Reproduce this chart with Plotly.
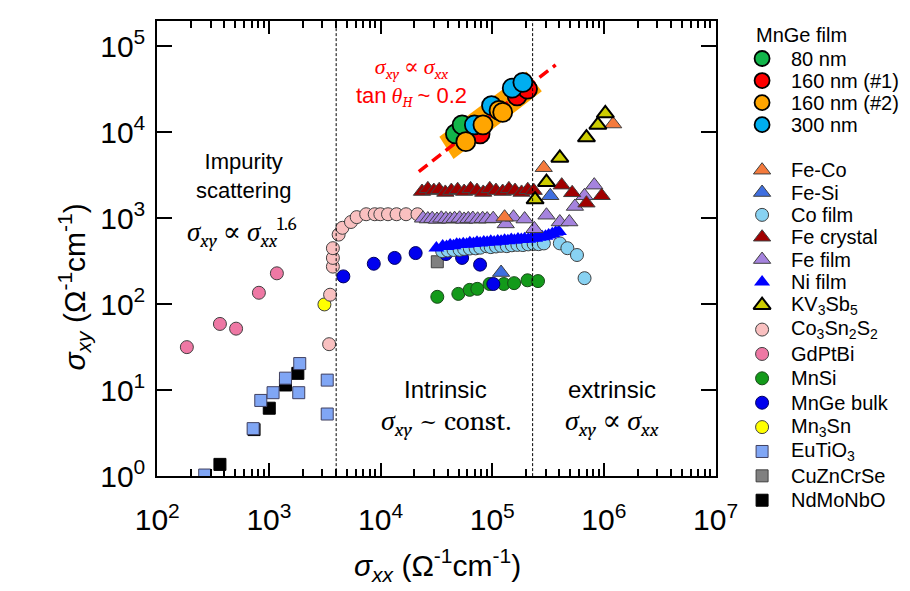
import plotly.graph_objects as go

# ---------------- data ----------------
film80_x = [4.68e4, 5.37e4]
film80_y = [9.6e3, 1.22e4]
film160a_x = [7.78e4, 1.67e5, 2.07e5]
film160a_y = [9.6e3, 2.66e4, 3.19e4]
film160b_x = [5.8e4, 8.26e4, 1.15e5, 1.24e5]
film160b_y = [7.8e3, 1.22e4, 1.8e4, 1.71e4]
film300_x = [6.92e4, 9.85e4, 1.51e5, 1.88e5]
film300_y = [1.22e4, 2.05e4, 3.27e4, 3.82e4]

band_x = [3.36e4, 4.5e4, 2.78e5, 2.03e5]
band_y = [8.9e3, 4.9e3, 3.0e4, 5.1e4]
fit_x = [2.2e4, 3.7e5]
fit_y = [3.5e3, 6.1e4]
divider_x = [4.0e3, 2.3e5]

feco_x = [1.29e5, 2.89e5, 1.21e6]
feco_y = [1.03e3, 3.88e3, 1.25e4]
fesi_x = [1.2e5, 3.31e5]
fesi_y = [234, 1.83e3]
cofilm_x = [3.56e4, 4.0e4, 4.5e4, 5.1e4, 5.6e4, 6.3e4, 7.1e4, 7.8e4, 8.9e4, 9.7e4, 1.08e5,
            1.2e5, 1.35e5, 1.5e5, 1.68e5, 1.88e5, 2.1e5, 2.35e5, 2.6e5, 2.9e5, 4.03e5, 4.71e5,
            5.74e5, 6.71e5]
cofilm_y = [415, 422, 428, 430, 440, 445, 447, 455, 473, 462, 470, 478, 474, 485, 490, 488, 497,
            503, 500, 510, 511, 449, 374, 201]
fecrys_x = [2.35e4, 2.65e4, 3.0e4, 3.35e4, 3.8e4, 4.3e4, 4.9e4, 5.6e4, 6.4e4, 7.3e4, 8.3e4,
            9.5e4, 1.08e5, 1.24e5, 1.41e5, 1.6e5, 1.83e5, 2.08e5, 2.35e5, 4.19e5, 5.2e5,
            6.98e5, 9.55e5]
fecrys_y = [2.05e3, 2.2e3, 2.1e3, 2.15e3, 2.0e3, 2.1e3, 2.15e3, 2.05e3, 2.2e3, 2.1e3, 2.0e3,
            2.2e3, 2.1e3, 2.05e3, 2.2e3, 2.1e3, 2.0e3, 2.15e3, 2.1e3, 2.43e3, 1.98e3, 1.5e3,
            1.83e3]
fefilm_x = [2.4e4, 2.65e4, 2.9e4, 3.2e4, 3.5e4, 3.85e4, 4.2e4, 4.6e4, 5.1e4, 5.6e4, 6.1e4,
            6.7e4, 7.4e4, 8.2e4, 9.0e4, 1.02e5, 1.32e5, 1.55e5, 1.95e5, 2.38e5, 3.06e5,
            4.03e5, 4.9e5, 5.5e5, 6.7e5, 8.2e5]
fefilm_y = [1.0e3, 980, 990, 970, 1.0e3, 985, 975, 990, 1.0e3, 970, 985, 995, 975, 990, 980,
            990, 860, 1030, 980, 755, 1086, 906, 906, 1373, 1827, 2430]
nifilm_x = [3.16e4, 3.6e4, 3.9e4, 4.2e4, 4.5e4, 4.8e4, 5.1e4, 5.5e4, 5.9e4, 6.3e4, 6.8e4,
            7.3e4, 7.8e4, 8.4e4, 9.0e4, 9.7e4, 1.04e5, 1.12e5, 1.2e5, 1.29e5, 1.38e5, 1.48e5,
            1.58e5, 1.7e5, 1.82e5, 1.95e5, 2.1e5, 2.25e5, 2.42e5, 2.6e5, 2.8e5, 3.0e5, 3.2e5,
            3.45e5, 3.7e5, 3.95e5]
nifilm_y = [450, 475, 470, 490, 480, 500, 495, 505, 500, 520, 510, 525, 515, 530, 525, 540,
            530, 545, 540, 555, 548, 565, 555, 575, 565, 580, 572, 590, 585, 600, 610, 620,
            640, 660, 690, 700]
kv_x = [2.42e5, 3.06e5, 4.03e5, 6.98e5, 8.83e5, 1.03e6]
kv_y = [1.65e3, 2.63e3, 5.04e3, 8.7e3, 1.22e4, 1.66e4]
cosns_x = [3.46e3, 3.53e3, 3.74e3, 3.74e3, 3.74e3, 4.21e3, 4.55e3, 5.43e3, 6.11e3, 7.43e3,
           8.86e3, 9.95e3, 1.165e4, 1.39e4, 1.69e4, 2.14e4]
cosns_y = [34.3, 129, 274, 346, 449, 646, 775, 906, 1032, 1115, 1115, 1115, 1115, 1115, 1115,
           1115]
gdptbi_x = [184, 364, 508, 813, 1178]
gdptbi_y = [31.7, 59, 52, 136, 229]
mnsi_x = [3.22e4, 4.97e4, 6.28e4, 7.35e4, 9.46e4, 1.27e5, 1.57e5, 2.07e5, 2.57e5]
mnsi_y = [122, 132, 147, 151, 172, 172, 176, 190, 186]
mngebulk_x = [4.64e3, 8.69e3, 1.336e4, 2.06e4, 3.85e4, 5.37e4, 7.78e4, 1.023e5]
mngebulk_y = [211, 296, 346, 394, 384, 346, 289, 172]
mn3sn_x = [3.14e3]
mn3sn_y = [99.5]
eutio_x = [266, 722, 845, 1089, 1406, 1888, 1849, 3327, 3327]
eutio_y = [1.03, 3.57, 7.6, 9.35, 13.8, 20.4, 9.35, 13.1, 5.28]
cuzn_x = [3.22e4]
cuzn_y = [312]
ndmo_x = [364, 736, 1007, 1406, 1815]
ndmo_y = [1.37, 3.48, 6.17, 11.5, 15.7]

x_tickvals = [1e2, 1e3, 1e4, 1e5, 1e6, 1e7]
x_ticktext = ["10<sup>2</sup>", "10<sup>3</sup>", "10<sup>4</sup>", "10<sup>5</sup>",
              "10<sup>6</sup>", "10<sup>7</sup>"]
y_tickvals = [1e0, 1e1, 1e2, 1e3, 1e4, 1e5]
y_ticktext = ["10<sup>0</sup>", "10<sup>1</sup>", "10<sup>2</sup>", "10<sup>3</sup>",
              "10<sup>4</sup>", "10<sup>5</sup>"]

# ---------------- layout constants ----------------
W, H = 910, 591
PL, PR, PT, PB = 133, 721, 13, 482      # plot frame in pixels
SANS = "Arial, Liberation Sans, sans-serif"
SERIF = "Cambria, Liberation Serif, DejaVu Serif, serif"

film_series = [
    ("80 nm", film80_x, film80_y, "#12B54A"),
    ("160 nm (#1)", film160a_x, film160a_y, "#FF0000"),
    ("160 nm (#2)", film160b_x, film160b_y, "#FFA500"),
    ("300 nm", film300_x, film300_y, "#00AEEF"),
]
film_draw_order = [0, 1, 3, 2]

# name, x, y, symbol, fill, size, edge, edge width
other_series = [
    ("Fe-Co", feco_x, feco_y, "triangle-up", "#F47A3C", 15, "#404040", 1),
    ("Fe-Si", fesi_x, fesi_y, "triangle-up", "#3F6FE0", 15, "#404040", 1),
    ("Co film", cofilm_x, cofilm_y, "circle", "#88D2F2", 13, "#404040", 1),
    ("Fe crystal", fecrys_x, fecrys_y, "triangle-up", "#A00000", 15, "#404040", 1),
    ("Fe film", fefilm_x, fefilm_y, "triangle-up", "#A583DE", 15, "#404040", 1),
    ("Ni film", nifilm_x, nifilm_y, "triangle-up", "#0000FF", 14, "#0000FF", 0),
    ("KV<sub>3</sub>Sb<sub>5</sub>", kv_x, kv_y, "triangle-up", "#CDCD00", 15, "#000000", 2),
    ("Co<sub>3</sub>Sn<sub>2</sub>S<sub>2</sub>", cosns_x, cosns_y, "circle", "#F9C0C0", 13, "#404040", 1),
    ("GdPtBi", gdptbi_x, gdptbi_y, "circle", "#EE78A4", 13, "#404040", 1),
    ("MnSi", mnsi_x, mnsi_y, "circle", "#139A1A", 13, "#1a4a1a", 1),
    ("MnGe bulk", mngebulk_x, mngebulk_y, "circle", "#0000EE", 13, "#000060", 1),
    ("Mn<sub>3</sub>Sn", mn3sn_x, mn3sn_y, "circle", "#FFFF00", 13, "#404040", 1),
    ("EuTiO<sub>3</sub>", eutio_x, eutio_y, "square", "#80A6F5", 12, "#404060", 1),
    ("CuZnCrSe", cuzn_x, cuzn_y, "square", "#808080", 12, "#404040", 1),
    ("NdMoNbO", ndmo_x, ndmo_y, "square", "#000000", 12, "#000000", 1),
]
other_draw_order = [14, 12, 13, 11, 8, 7, 9, 10, 2, 5, 4, 3, 1, 0, 6]

fig = go.Figure()

# other materials
for i in other_draw_order:
    name, xs, ys, sym, col, sz, ec, ew = other_series[i]
    fig.add_trace(go.Scatter(
        x=xs, y=ys, mode="markers", name=name, showlegend=False,
        marker=dict(symbol=sym, color=col, size=sz, line=dict(color=ec, width=ew)),
        xaxis="x", yaxis="y", cliponaxis=True))

# orange band and fit line
fig.add_trace(go.Scatter(x=band_x + band_x[:1], y=band_y + band_y[:1], mode="lines",
                         fill="toself", fillcolor="#FFA500", line=dict(width=0, color="#FFA500"),
                         showlegend=False, hoverinfo="skip"))
fig.add_trace(go.Scatter(x=fit_x, y=fit_y, mode="lines", showlegend=False,
                         line=dict(color="#FF0000", width=3.5, dash="11px,6px")))

# MnGe film
for i in film_draw_order:
    name, xs, ys, col = film_series[i]
    fig.add_trace(go.Scatter(
        x=xs, y=ys, mode="markers", name=name, showlegend=False,
        marker=dict(symbol="circle", color=col, size=19, line=dict(color="#000000", width=1.8))))

# ---------------- custom legend (axis x2/y2 = figure pixels) ----------------
LEG_MX, LEG_TX = 770, 798
film_rows = [52 + 22.7 * i for i in range(len(film_series))]
other_rows = [167 + 23.0 * i for i in range(6)] + [306 + 25.1 * i for i in range(len(other_series) - 6)]

fig.add_trace(go.Scatter(
    x=[LEG_MX] * len(film_series), y=film_rows, mode="markers", showlegend=False,
    xaxis="x2", yaxis="y2", hoverinfo="skip",
    marker=dict(symbol="circle", size=15, color=[s[3] for s in film_series],
                line=dict(color="#000000", width=1.8))))
for r, s in zip(other_rows, other_series):
    name, xs, ys, sym, col, sz, ec, ew = s
    fig.add_trace(go.Scatter(
        x=[LEG_MX], y=[r], mode="markers", showlegend=False, xaxis="x2", yaxis="y2",
        hoverinfo="skip",
        marker=dict(symbol=sym, color=col, size=sz, line=dict(color=ec, width=ew))))

annotations = []
annotations.append(dict(x=762, y=28, xref="x2", yref="y2", text="MnGe film", showarrow=False,
                        xanchor="left", yanchor="middle", font=dict(family=SANS, size=20, color="black")))
for r, s in zip(film_rows, film_series):
    annotations.append(dict(x=LEG_TX, y=r, xref="x2", yref="y2", text=s[0], showarrow=False,
                            xanchor="left", yanchor="middle",
                            font=dict(family=SANS, size=20, color="black")))
for r, s in zip(other_rows, other_series):
    annotations.append(dict(x=LEG_TX, y=r, xref="x2", yref="y2", text=s[0], showarrow=False,
                            xanchor="left", yanchor="middle",
                            font=dict(family=SANS, size=20, color="black")))

# text inside the plot (pixel positions)
def txt(x, y, t, size=21, fam=SANS, color="black", angle=0):
    annotations.append(dict(x=x, y=y, xref="x2", yref="y2", text=t, showarrow=False,
                            xanchor="center", yanchor="middle", textangle=angle,
                            font=dict(family=fam, size=size, color=color)))

sxy = "<i>σ</i><sub><i>xy</i></sub>"
sxx = "<i>σ</i><sub><i>xx</i></sub>"
sans_span = '<span style="font-family:Arial, Liberation Sans, sans-serif">%s</span>'
txt(224, 173, "Impurity<br>scattering", size=22)
txt(222, 231, sxy + " ∝ " + sxx + "<sup>1.6</sup>", size=27, fam=SERIF)
txt(437, 393, "Intrinsic", size=24)
txt(437, 427, sxy + " ~ const.", size=28, fam=SERIF)
txt(612, 393, "extrinsic", size=24)
txt(612, 427, sxy + " ∝ " + sxx, size=28, fam=SERIF)
txt(401, 77, sxy + " ∝ " + sxx + "<br>" + sans_span % "tan" + " "
    + "<i>θ</i><sub><i>H</i></sub> " + sans_span % "~ 0.2",
    size=22, fam=SERIF, color="#FF0000")
# axis titles
txt(428, 574, "<i>σ</i><sub><i>xx</i></sub> (Ω<sup>-1</sup>cm<sup>-1</sup>)", size=30, fam=SANS)
txt(45, 287, "<i>σ</i><sub><i>xy</i></sub> (Ω<sup>-1</sup>cm<sup>-1</sup>)", size=30, fam=SANS, angle=-90)

shapes = []
for dx in divider_x:
    shapes.append(dict(type="line", xref="x", yref="y domain", x0=dx, x1=dx, y0=0, y1=1,
                       line=dict(color="black", width=1, dash="3px,2px")))

minor_x = [k * 10 ** n for n in range(2, 7) for k in range(2, 10)]

fig.update_layout(
    width=W, height=H, margin=dict(l=0, r=0, t=0, b=0),
    paper_bgcolor="white", plot_bgcolor="rgba(0,0,0,0)",
    showlegend=False,
    xaxis=dict(type="log", range=[2, 7], domain=[PL / W, PR / W], anchor="y",
               showline=True, linewidth=2, linecolor="black", mirror="ticks",
               ticks="inside", ticklen=13, tickwidth=2, tickcolor="black",
               tickmode="array", tickvals=x_tickvals, ticktext=x_ticktext,
               tickfont=dict(family=SANS, size=30, color="black"), ticklabelstandoff=16,
               minor=dict(tickmode="array", tickvals=minor_x, ticks="inside", ticklen=7,
                          tickwidth=1.5, tickcolor="black", showgrid=False),
               showgrid=False, zeroline=False),
    yaxis=dict(type="log", range=[0, 5.3], domain=[(H - PB) / H, (H - PT) / H], anchor="x",
               showline=True, linewidth=2, linecolor="black", mirror="ticks",
               ticks="inside", ticklen=15, tickwidth=2, tickcolor="black",
               tickmode="array", tickvals=y_tickvals, ticktext=y_ticktext,
               tickfont=dict(family=SANS, size=30, color="black"), ticklabelstandoff=4,
               showgrid=False, zeroline=False),
    xaxis2=dict(range=[0, W], domain=[0, 1], anchor="y2", visible=False, fixedrange=True),
    yaxis2=dict(range=[H, 0], domain=[0, 1], anchor="x2", visible=False, fixedrange=True),
    annotations=annotations, shapes=shapes,
)

fig.write_html("out.html")
